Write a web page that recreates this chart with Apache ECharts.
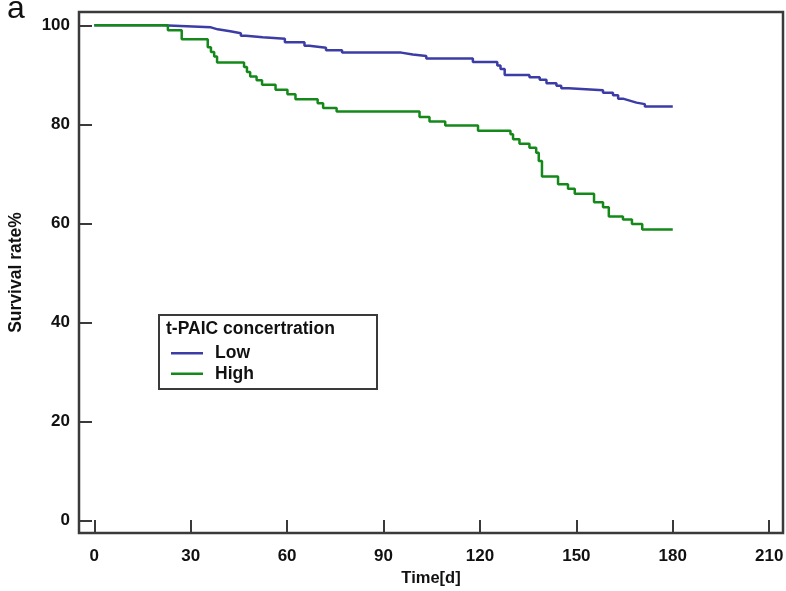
<!DOCTYPE html>
<html>
<head>
<meta charset="utf-8">
<script src="https://cdn.jsdelivr.net/npm/echarts@6/dist/echarts.min.js"></script>
<style>html,body{margin:0;padding:0;background:#fff;}#c{width:786px;height:591px;}</style>
</head>
<body>
<div id="c"></div>
<script>
// Data
const xTicks = [0, 30, 60, 90, 120, 150, 180, 210];
const yTicks = [0, 20, 40, 60, 80, 100];
const lowTime = [0, 21.2, 36.3, 38.4, 42.3, 45.6, 47.2, 52.4, 59.3, 65.4, 66.9, 72.1, 77.1, 95.5, 99.1, 103.3, 117.8, 125.4, 126.4, 127.7, 135.4, 138.6, 140.7, 143.8, 145.3, 147.6, 158.3, 161.4, 163.0, 164.5, 166.6, 168.7, 171.3, 180];
const lowSurv = [100, 99.6, 99.2, 98.8, 98.4, 97.9, 97.6, 97.3, 96.6, 95.9, 95.5, 95.0, 94.5, 94.1, 93.8, 93.3, 92.6, 91.9, 91.2, 90.0, 89.5, 89.0, 88.3, 87.8, 87.3, 86.9, 86.4, 85.9, 85.2, 84.8, 84.4, 84.1, 83.6, 83.6];
const highTime = [0, 22.9, 27.2, 35.3, 36.3, 37.3, 38.2, 46.6, 47.5, 48.5, 50.5, 52.2, 56.4, 60.1, 62.6, 69.5, 71.2, 75.4, 101.2, 104.3, 109.2, 119.4, 129.5, 130.3, 132.3, 135.4, 137.5, 138.3, 139.3, 144.3, 147.4, 149.5, 155.5, 158.3, 160.1, 164.5, 167.3, 170.5, 180];
const highSurv = [100, 99.0, 97.2, 95.6, 94.6, 93.7, 92.5, 91.6, 90.6, 89.7, 88.9, 88.0, 87.0, 86.1, 85.1, 84.3, 83.3, 82.6, 81.5, 80.6, 79.8, 78.7, 78.0, 77.0, 76.1, 75.3, 74.3, 72.6, 69.5, 67.9, 67.0, 66.0, 64.3, 63.3, 61.4, 60.8, 59.9, 58.8, 58.8];
const seriesNames = ['Low', 'High'];
const legendTitle = 't-PAIC concertration';

const pair = (t, v) => t.map((x, i) => [x, v[i]]);

const chart = echarts.init(document.getElementById('c'), null, {renderer: 'canvas'});
const font = 'Liberation Sans, Arial, sans-serif';
chart.setOption({
  animation: false,
  backgroundColor: '#fff',
  grid: {left: 79, right: 3, top: 12, bottom: 58, outerBoundsMode: 'none', containLabel: false, show: true, borderColor: '#3a3a3a', borderWidth: 2.5, backgroundColor: 'transparent'},
  xAxis: {
    type: 'value', min: -4.76, max: 214.3,
    name: 'Time[d]', nameLocation: 'middle', nameGap: 37,
    nameTextStyle: {fontFamily: font, fontWeight: 'bold', fontSize: 16.5, color: '#111'},
    axisLine: {show: false, onZero: false},
    splitLine: {show: false},
    axisTick: {show: true, inside: true, length: 13, customValues: xTicks, lineStyle: {color: '#3a3a3a', width: 2}},
    axisLabel: {customValues: xTicks, fontFamily: font, fontWeight: 'bold', fontSize: 17, color: '#111', margin: 15}
  },
  yAxis: {
    type: 'value', min: -2.5, max: 102.7,
    name: 'Survival rate%', nameLocation: 'middle', nameGap: 54,
    nameTextStyle: {fontFamily: font, fontWeight: 'bold', fontSize: 17.5, color: '#111'},
    axisLine: {show: false, onZero: false},
    splitLine: {show: false},
    axisTick: {show: true, inside: true, length: 13, customValues: yTicks, lineStyle: {color: '#3a3a3a', width: 2}},
    axisLabel: {customValues: yTicks, fontFamily: font, fontWeight: 'bold', fontSize: 17, color: '#111', margin: 9}
  },
  legend: {
    orient: 'vertical', left: 166, top: 339,
    icon: 'rect', itemWidth: 32, itemHeight: 2.5, itemGap: 2,
    data: seriesNames,
    textStyle: {fontFamily: font, fontWeight: 'bold', fontSize: 17.5, color: '#111', lineHeight: 18.5, padding: [0, 0, 0, 7]}
  },
  graphic: [
    {type: 'text', left: 7, top: -7, style: {text: 'a', font: '32px ' + font, fill: '#111'}},
    {type: 'rect', left: 158, top: 314, shape: {width: 218, height: 74}, style: {fill: 'transparent', stroke: '#3a3a3a', lineWidth: 2}},
    {type: 'text', left: 166, top: 320, style: {text: legendTitle, font: 'bold 17.5px ' + font, fill: '#111'}}
  ],
  series: [
    {name: seriesNames[0], type: 'line', step: 'end', showSymbol: false, symbol: 'none', data: pair(lowTime, lowSurv), lineStyle: {color: '#3c3ca6', width: 2.5}, itemStyle: {color: '#3c3ca6'}, z: 3},
    {name: seriesNames[1], type: 'line', step: 'end', showSymbol: false, symbol: 'none', data: pair(highTime, highSurv), lineStyle: {color: '#14891a', width: 2.5}, itemStyle: {color: '#14891a'}, z: 4}
  ]
});
</script>
</body>
</html>
